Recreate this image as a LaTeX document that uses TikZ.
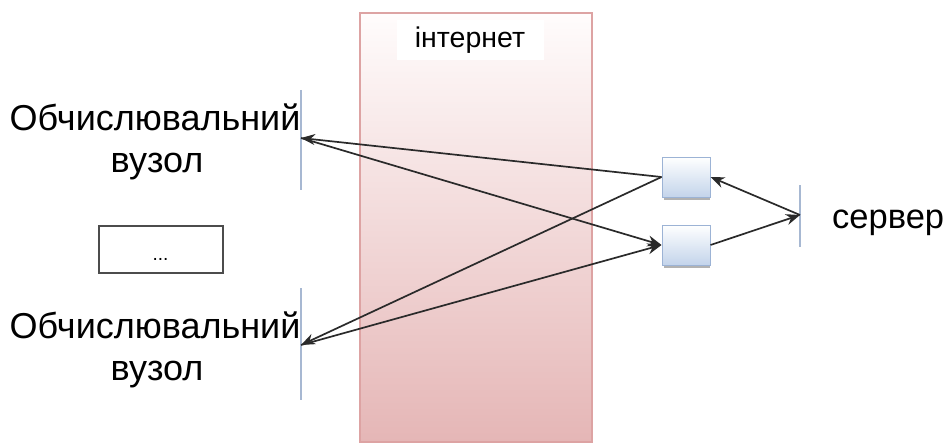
\documentclass[tikz,border=0pt]{standalone}
\usepackage{fontspec}
\setmainfont{Liberation Sans}
\usetikzlibrary{arrows.meta}
\definecolor{netborder}{HTML}{DDA3A3}
\definecolor{netbottom}{HTML}{E5B6B6}
\definecolor{nettop}{HTML}{FFFCFC}
\definecolor{barblue}{HTML}{A7B8D2}
\definecolor{boxborder}{HTML}{9CB3D5}
\definecolor{boxbottom}{HTML}{C3D4EB}
\definecolor{arrgray}{HTML}{2A2A2A}
\tikzset{
  bigtext/.style={font=\fontsize{36}{43}\selectfont, inner sep=0pt, anchor=base},
  bar/.style={draw=barblue, line width=1.2pt},
  arr/.style={draw=arrgray, line width=1.7pt, -{Stealth[length=14pt,width=11pt]}},
  smallbox/.style={draw=boxborder, line width=1pt, top color=white, bottom color=boxbottom, minimum width=48pt, minimum height=40pt, inner sep=0pt},
  shadowbox/.style={fill=black!30, minimum width=46pt, minimum height=40pt, inner sep=0pt},
}
\begin{document}
\begin{tikzpicture}[x=1pt,y=-1pt]
\useasboundingbox (0,0) rectangle (951,444);
% internet band
\draw[draw=netborder, line width=1.5pt, top color=nettop, bottom color=netbottom] (360,13) rectangle (592,442);
\node[fill=white, minimum width=147pt, minimum height=40pt, inner sep=0pt, font=\fontsize{28.5}{32}\selectfont] (net) at (470,40) {інтернет};
% left node bars
\draw[bar] (301,90) -- (301,190);
\draw[bar] (301,288) -- (301,400);
\coordinate (n1) at (301,138);
\coordinate (n2) at (301,345);
% labels
\node[bigtext] (t1a) at (155,130) {Обчислювальний};
\node[bigtext] (t1b) at (157,172) {вузол};
\node[bigtext] (t2a) at (155,338) {Обчислювальний};
\node[bigtext] (t2b) at (157,380) {вузол};
% dots box
\node[draw=black!70, line width=2pt, minimum width=124pt, minimum height=47pt, inner sep=0pt, text height=22pt, text depth=0pt, font=\fontsize{19}{22}\selectfont] (dots) at (160.5,249) {...};
% small boxes
\node[shadowbox] at (687,180) {};
\node[shadowbox] at (687,248) {};
\node[smallbox] (b1) at (686,177) {};
\node[smallbox] (b2) at (686,245) {};
% server
\draw[bar] (800,185) -- (800,247);
\coordinate (s) at (800,215);
\node[bigtext, anchor=base west, font=\fontsize{34.5}{40}\selectfont] (srv) at (832,228) {сервер};
% connectors
\draw[arr] (b1.west) -- (n1);
\draw[arr] (b1.west) -- (n2);
\draw[arr] (n1) -- (b2.west);
\draw[arr] (n2) -- (b2.west);
\draw[arr] (s) -- (b1.east);
\draw[arr] (b2.east) -- (s);
\end{tikzpicture}
\end{document}
